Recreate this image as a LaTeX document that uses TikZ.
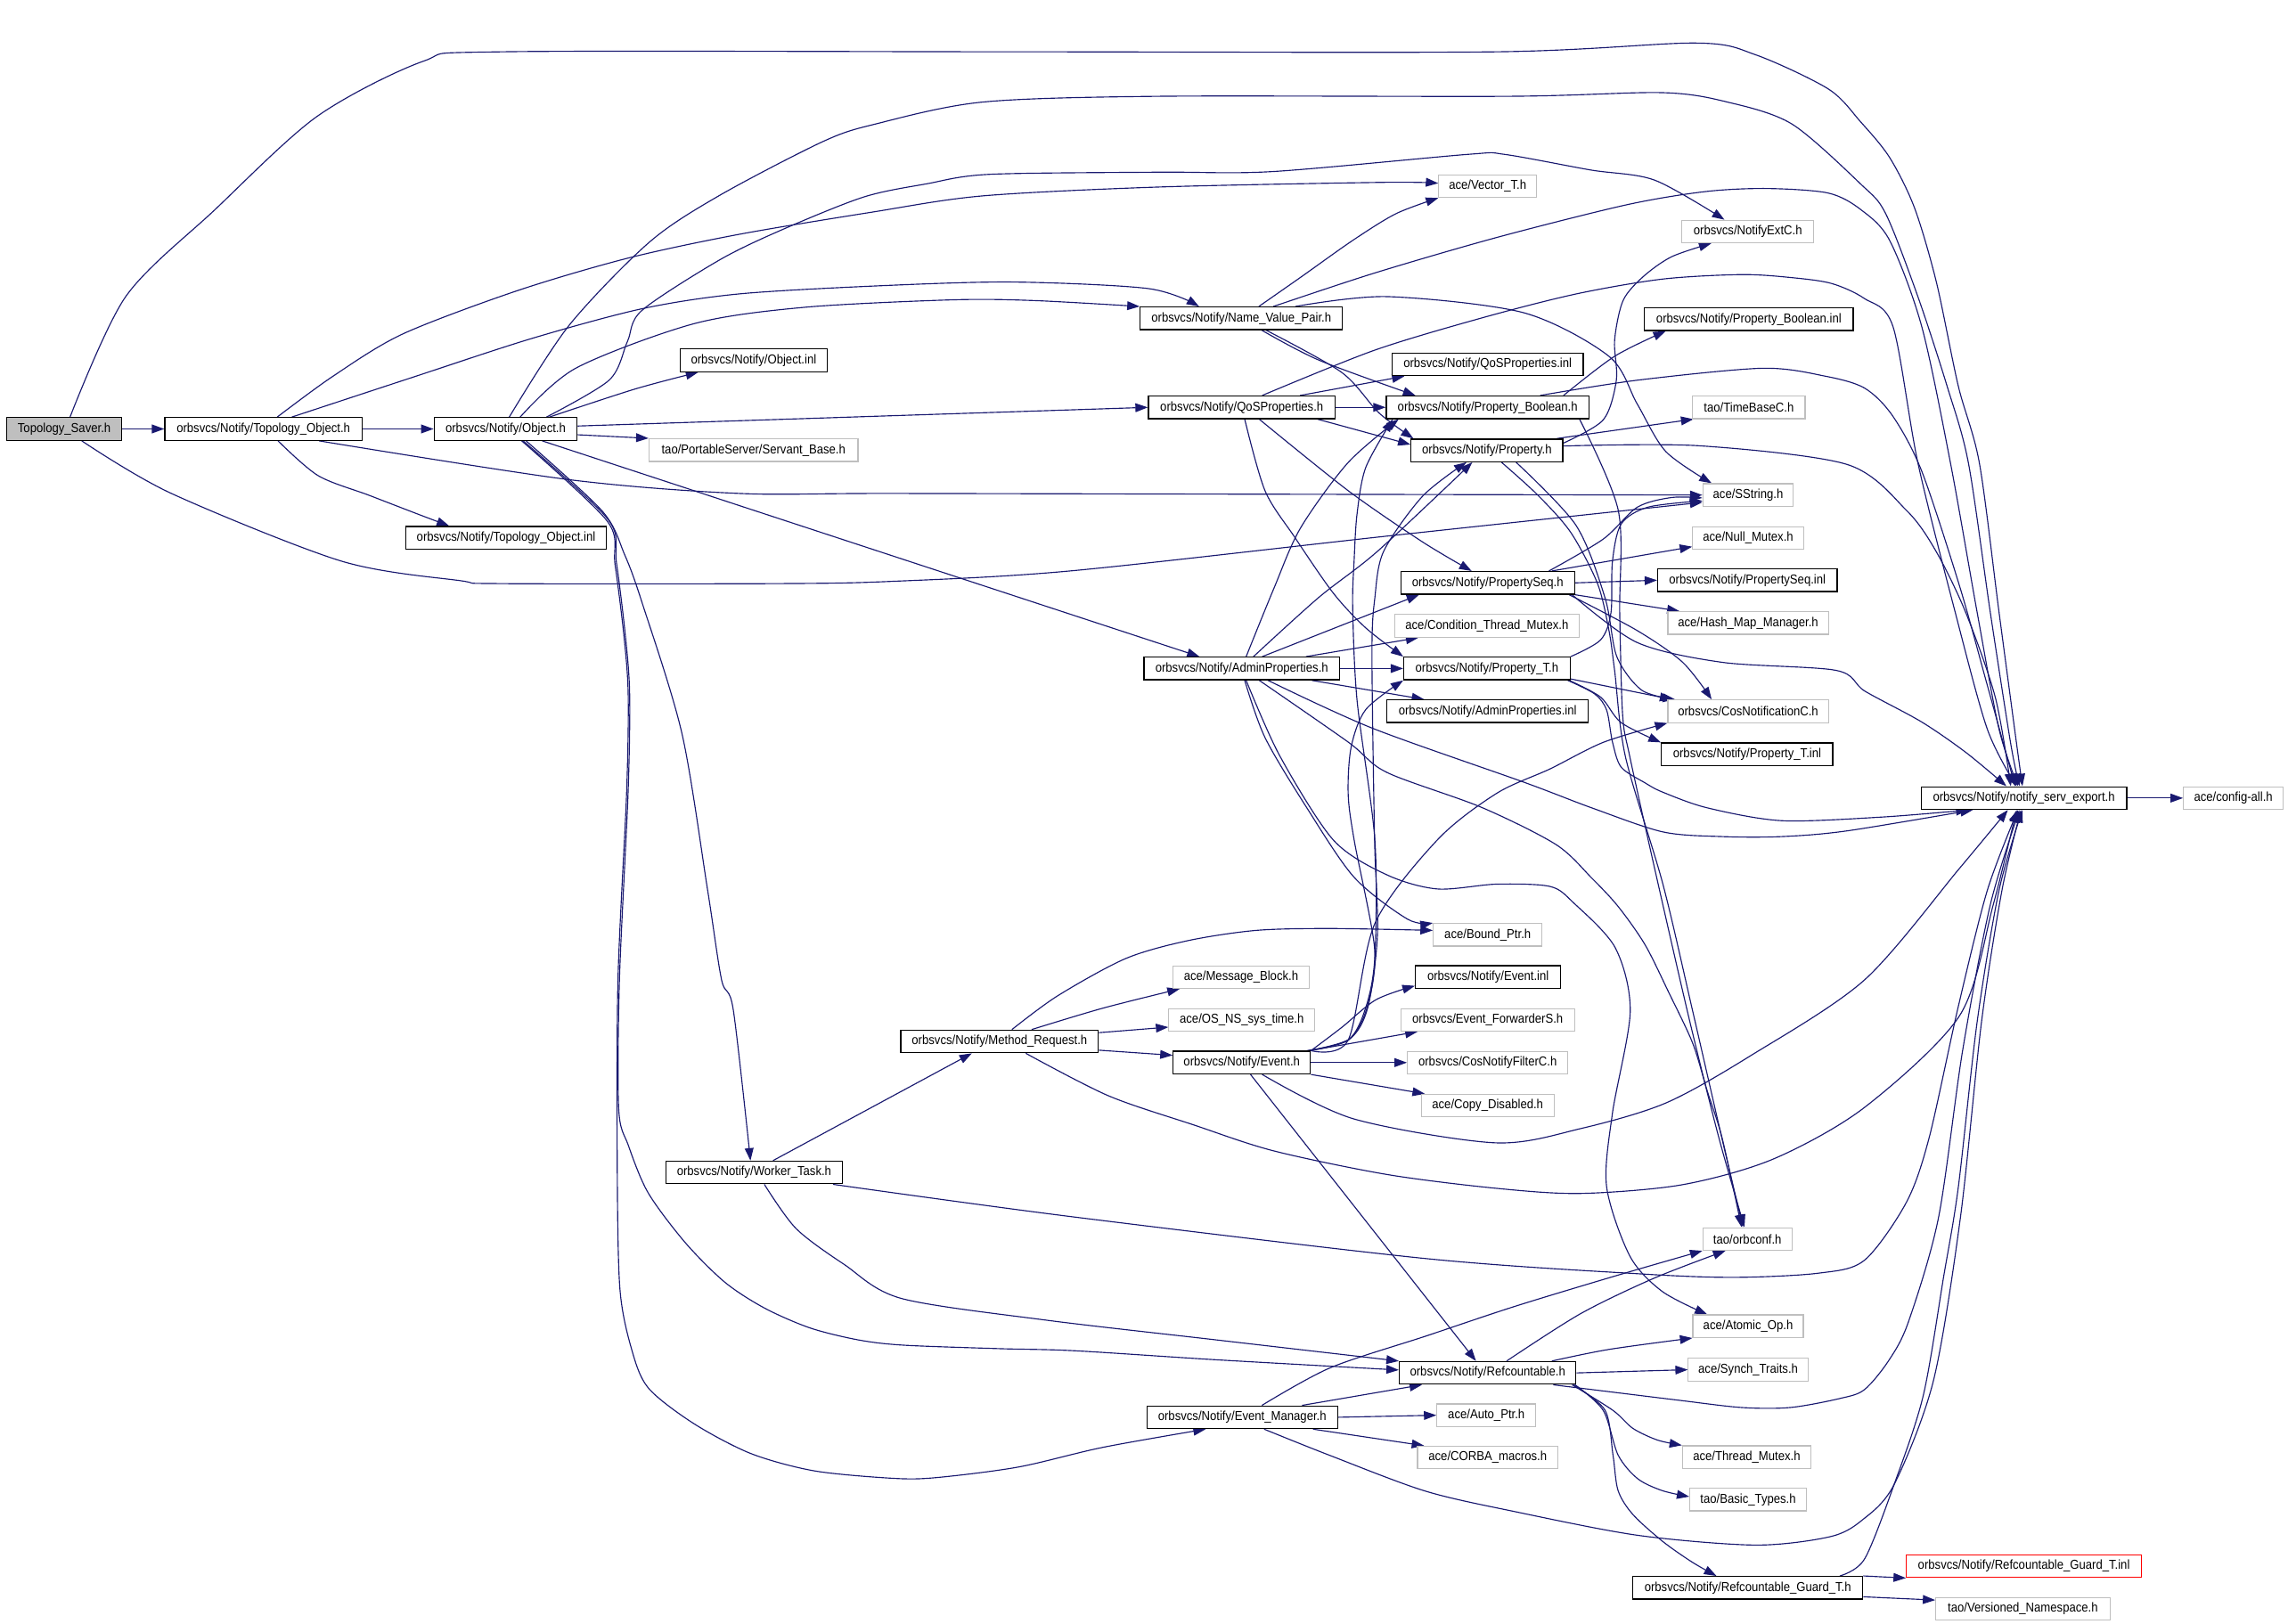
\documentclass[tikz,border=0pt]{standalone}
\usepackage{fontspec}
\setmainfont[FakeStretch=0.9]{Liberation Sans}
\usetikzlibrary{arrows.meta}
\definecolor{edgec}{HTML}{191970}
\definecolor{boxgray}{HTML}{BFBFBF}
\pgfdeclarelayer{background}
\pgfsetlayers{background,main}
\begin{document}
\begin{tikzpicture}[x=1pt,y=-1pt,
  bb/.style={draw=black, line width=0.8pt, minimum height=15.5pt, inner sep=0pt, fill=white, font=\fontsize{8.9}{10}\selectfont},
  gb/.style={bb, draw=boxgray, line width=0.7pt},
  e/.style={draw=edgec, line width=0.7pt, -{Triangle[length=8.5pt,width=6pt]}}
]
\useasboundingbox (0,0) rectangle (1568,1113);
% nodes
\node[bb,minimum width=78.6pt,fill=boxgray] (saver) at (44,294) {Topology\_Saver.h};
\node[bb,minimum width=135pt] (topo) at (180.5,294) {orbsvcs/Notify/Topology\_Object.h};
\node[bb,minimum width=98pt] (obj) at (346.5,294) {orbsvcs/Notify/Object.h};
\node[bb,minimum width=101pt] (objinl) at (516.5,247) {orbsvcs/Notify/Object.inl};
\node[gb,minimum width=143.2pt] (servant) at (516.4,308.5) {tao/PortableServer/Servant\_Base.h};
\node[bb,minimum width=137.6pt] (topoinl) at (346.8,368.6) {orbsvcs/Notify/Topology\_Object.inl};
\node[gb,minimum width=67pt] (vector) at (1019.5,127.6) {ace/Vector\_T.h};
\node[gb,minimum width=90.4pt] (notifyext) at (1197.8,158.7) {orbsvcs/NotifyExtC.h};
\node[bb,minimum width=138.6pt] (nvp) at (850.7,218.2) {orbsvcs/Notify/Name\_Value\_Pair.h};
\node[bb,minimum width=143pt] (pbinl) at (1198.5,218.8) {orbsvcs/Notify/Property\_Boolean.inl};
\node[bb,minimum width=131pt] (qosinl) at (1019.5,249.7) {orbsvcs/Notify/QoSProperties.inl};
\node[bb,minimum width=128pt] (qos) at (851,279.2) {orbsvcs/Notify/QoSProperties.h};
\node[bb,minimum width=139pt] (pb) at (1019.5,279.2) {orbsvcs/Notify/Property\_Boolean.h};
\node[gb,minimum width=77pt] (timebase) at (1198.5,279.2) {tao/TimeBaseC.h};
\node[bb,minimum width=104pt] (prop) at (1019,308.7) {orbsvcs/Notify/Property.h};
\node[gb,minimum width=62pt] (sstring) at (1198,339.3) {ace/SString.h};
\node[gb,minimum width=76pt] (nullmutex) at (1198,368.7) {ace/Null\_Mutex.h};
\node[bb,minimum width=119pt] (pseq) at (1019.5,399.5) {orbsvcs/Notify/PropertySeq.h};
\node[bb,minimum width=123pt] (pseqinl) at (1197.5,397.7) {orbsvcs/Notify/PropertySeq.inl};
\node[gb,minimum width=110pt] (hashmap) at (1198,427) {ace/Hash\_Map\_Manager.h};
\node[gb,minimum width=126pt] (condmutex) at (1019,429) {ace/Condition\_Thread\_Mutex.h};
\node[bb,minimum width=134pt] (admin) at (851,458.2) {orbsvcs/Notify/AdminProperties.h};
\node[bb,minimum width=114pt] (propT) at (1019,458.2) {orbsvcs/Notify/Property\_T.h};
\node[bb,minimum width=138pt] (admininl) at (1019.5,487.5) {orbsvcs/Notify/AdminProperties.inl};
\node[gb,minimum width=110pt] (cosnotif) at (1198,487.5) {orbsvcs/CosNotificationC.h};
\node[bb,minimum width=117.4pt] (propTinl) at (1197.3,517) {orbsvcs/Notify/Property\_T.inl};
\node[bb,minimum width=140.8pt] (nse) at (1387,547) {orbsvcs/Notify/notify\_serv\_export.h};
\node[gb,minimum width=68.3pt] (configall) at (1530.5,547) {ace/config-all.h};
\node[gb,minimum width=74.5pt] (boundptr) at (1019.5,640.7) {ace/Bound\_Ptr.h};
\node[gb,minimum width=93pt] (msgblock) at (850.5,669.7) {ace/Message\_Block.h};
\node[bb,minimum width=99.6pt] (eventinl) at (1019.8,669.7) {orbsvcs/Notify/Event.inl};
\node[gb,minimum width=100pt] (ostime) at (851,699) {ace/OS\_NS\_sys\_time.h};
\node[gb,minimum width=119pt] (evfwd) at (1019.5,699) {orbsvcs/Event\_ForwarderS.h};
\node[bb,minimum width=135.3pt] (methreq) at (685,713.8) {orbsvcs/Notify/Method\_Request.h};
\node[bb,minimum width=94pt] (event) at (851,728.3) {orbsvcs/Notify/Event.h};
\node[gb,minimum width=110pt] (filter) at (1019.5,728.3) {orbsvcs/CosNotifyFilterC.h};
\node[gb,minimum width=91pt] (copydis) at (1019.5,757.8) {ace/Copy\_Disabled.h};
\node[bb,minimum width=121pt] (worker) at (516.8,803.6) {orbsvcs/Notify/Worker\_Task.h};
\node[gb,minimum width=61pt] (orbconf) at (1197.5,849.2) {tao/orbconf.h};
\node[gb,minimum width=75.7pt] (atomic) at (1198,909) {ace/Atomic\_Op.h};
\node[bb,minimum width=121pt] (refc) at (1019.5,941) {orbsvcs/Notify/Refcountable.h};
\node[gb,minimum width=82pt] (synch) at (1198,938.8) {ace/Synch\_Traits.h};
\node[bb,minimum width=130.7pt] (evmgr) at (851.3,971.4) {orbsvcs/Notify/Event\_Manager.h};
\node[gb,minimum width=67.8pt] (autoptr) at (1018.6,970) {ace/Auto\_Ptr.h};
\node[gb,minimum width=96.2pt] (corba) at (1019.5,999) {ace/CORBA\_macros.h};
\node[gb,minimum width=88pt] (threadmutex) at (1197,998.7) {ace/Thread\_Mutex.h};
\node[gb,minimum width=80pt] (basictypes) at (1198,1027.8) {tao/Basic\_Types.h};
\node[bb,minimum width=157.6pt] (guard) at (1197.8,1088.3) {orbsvcs/Notify/Refcountable\_Guard\_T.h};
\node[gb,minimum width=161pt,draw=red] (guardinl) at (1387,1073.5) {orbsvcs/Notify/Refcountable\_Guard\_T.inl};
\node[gb,minimum width=119.4pt] (versioned) at (1386.3,1102.8) {tao/Versioned\_Namespace.h};

\begin{pgfonlayer}{background}
\fill[white] (0,0) rectangle (1568,1113);
% saver
\draw[e] (saver.east) -- (topo.west);
\draw[e] plot[smooth,tension=0.5] coordinates {([xshift=4pt]saver.north) (86,203.5) (147,144) (217,80) (290,42) (344,35.5) (700,35.5) (1026,35.5) (1162,29.5) (1203,37.5) (1253,61) (1275,83.4) (1295,108) (1312,142.4) (1327,193.3) (1342,264.5) (1356.5,317.5) (1370,420) (1382,510) ([xshift=-1pt]nse.north)};
\draw[e] plot[smooth,tension=0.5] coordinates {([xshift=12pt]saver.south) (117,338) (234,384.6) (315.5,398) (342.7,400) (533.5,400) (610.5,398.5) (732.6,391.4) (950,367.5) ([yshift=-5pt]sstring.west)};
% topo
\draw[e] (topo.east) -- (obj.west);
\draw[e] plot[smooth,tension=0.5] coordinates {([xshift=9.5pt]topo.north) (228,258) (275.8,229) (354,199.4) (430,177) (506,160.7) (597,145.5) (673,134.3) (793.7,128.2) (947,125) ([yshift=2pt]vector.west)};
\draw[e] plot[smooth,tension=0.5] coordinates {([xshift=19.5pt]topo.north) (283.4,258.4) (364.4,232) (440,211.6) (506,201.5) (600,196) (693.5,193.3) (787,197.8) ([xshift=-29pt]nvp.north)};
\draw[e] plot[smooth,tension=0.5] coordinates {([xshift=10pt]topo.south) (218,326) (253,339.5) (288,353) ([xshift=-39pt]topoinl.north)};
\draw[e] plot[smooth,tension=0.5] coordinates {([xshift=38pt]topo.south) (389.5,328.7) (506.4,338.2) (610.5,338.2) (900,338.8) (sstring.west)};
% obj
\draw[e] plot[smooth,tension=0.5] coordinates {([xshift=30pt]obj.north) (435.3,266.6) ([xshift=-38pt]objinl.south)};
\draw[e] ([yshift=-4pt]obj.east) -- (servant.north west);
\draw[e] ([yshift=2pt]obj.east) -- (qos.west);
\draw[e] plot[smooth,tension=0.5] coordinates {([xshift=2.5pt]obj.north) (390,223) (445,166) (493,134) (564,97) (600,85) (673,70) (794,66) (1035,66) (1139,63.5) (1184,70) (1228,85) (1275,126) (1292.3,146.5) (1314.4,203.5) (1334.3,264.5) (1349,317.5) (1364,420) (1378,510) ([xshift=-3pt]nse.north)};
\draw[e] plot[smooth,tension=0.5] coordinates {([xshift=10pt]obj.north) (394.7,252.3) (475.8,221.8) (551.6,210.6) (652.9,205.5) (708.6,206) (nvp.north west)};
\draw[e] plot[smooth,tension=0.5] coordinates {([xshift=28pt]obj.north) (417.5,260.5) (430,234) (440,212.7) (493.4,178) (537,157) (592,135) (635,126) (678,119.5) (794,118) (872,117.6) (1006,105.8) (1031,105.8) (1090,116.5) (1134,123.5) ([xshift=-16pt]notifyext.north)};
\draw[e] ([xshift=25pt]obj.south) -- ([xshift=-29pt]admin.north);
\draw[e] plot[smooth,tension=0.5] coordinates {([xshift=14pt]obj.south) (412.8,350.4) (428,380) (440,413) (467.4,503) (485,610.5) (494.5,671.6) (502.5,692) ([xshift=-2.5pt]worker.north)};
\draw[e] plot[smooth,tension=0.5] coordinates {([xshift=12pt]obj.south) (416.7,356) (422.5,386) (428.5,435) (431.5,476) (430.4,544) (424.5,671.6) (424,760) (430.6,785) (444.2,817.6) (469.6,851.7) (496.8,878.9) (524,896.6) (555.2,910.2) (588.3,918.4) (619.5,922) (685.6,924.4) (736.3,925.8) (833.6,932) ([yshift=2pt]refc.west)};
\draw[e] plot[smooth,tension=0.5] coordinates {([xshift=11pt]obj.south) (416,357) (421.5,387) (427.5,435) (430.5,476) (429.4,544) (423.5,671.6) (423,800) (424.8,883) (432.6,923.9) (444.2,951.2) (475.4,975.7) (514.4,996.2) (557.2,1008) (607.9,1013) (638.9,1013) (697.4,1005.6) (755.9,992) ([xshift=-25pt]evmgr.south)};
% nvp
\draw[e] plot[smooth,tension=0.5] coordinates {([xshift=12pt]nvp.north) (892.4,189.3) (927,164.8) (956.6,146.5) (vector.south west)};
\draw[e] plot[smooth,tension=0.5] coordinates {([xshift=22pt]nvp.north) (941.8,187.2) (1025.6,162.8) (1114.6,140.4) (1168.8,131.3) (1210.9,129.2) (1252.8,132.3) (1275,143.5) (1295,164.8) (1317,223.9) (1336.7,317.5) (1355,420) (1370,500) ([xshift=-4pt]nse.north)};
\draw[e] plot[smooth,tension=0.5] coordinates {([xshift=37pt]nvp.north) (950.5,203.3) (1044,214.3) (1102.6,244.2) (1122,276.9) (1141.6,309.5) ([xshift=-25pt]sstring.north)};
\draw[e] plot[smooth,tension=0.5] coordinates {([xshift=14pt]nvp.south) (904,246.9) ([xshift=-49.5pt]pb.north)};
\draw[e] plot[smooth,tension=0.5] coordinates {([xshift=17pt]nvp.south) (919.4,255.2) (945,283) ([xshift=2pt]prop.north west)};
% qos
\draw[e] ([xshift=40pt]qos.north) -- ([xshift=-57pt]qosinl.south);
\draw[e] (qos.east) -- (pb.west);
\draw[e] ([xshift=52pt]qos.south) -- ([yshift=4pt]prop.west);
\draw[e] plot[smooth,tension=0.5] coordinates {([xshift=12pt]qos.south) (923.9,336.3) (974.8,371.4) ([xshift=-11pt]pseq.north)};
\draw[e] plot[smooth,tension=0.5] coordinates {([xshift=2pt]qos.south) (866.9,336.3) (887.2,368.1) (913.7,406.5) (936,430.4) (propT.north west)};
\draw[e] plot[smooth,tension=0.5] coordinates {([xshift=14pt]qos.north) (941.8,240.1) (1015.9,217.8) (1080,201.5) (1139.2,191.3) (1193.5,188.2) (1228,190.3) (1255.2,194.3) (1277.5,204.5) (1297.3,223.9) (1314.4,317.5) (1340,420) (1362,500) ([xshift=-5pt]nse.north)};
% pb
\draw[e] plot[smooth,tension=0.5] coordinates {([xshift=52pt]pb.north) (1106.5,244.2) ([xshift=-57pt]pbinl.south)};
\draw[e] plot[smooth,tension=0.5] coordinates {([xshift=36pt]pb.north) (1122,260.6) (1207.8,252.4) (1250.7,257.8) (1277.8,266) (1297,285) (1317,323) (1343,402) (1362,470) ([xshift=-6pt]nse.north)};
\draw[e] plot[smooth,tension=0.5] coordinates {([xshift=63pt]pb.south) (1109,349.8) (1110,420) (1112,490) (1117,519) (1135,600) (1158,700) (1178,780) ([xshift=-2pt]orbconf.north)};
% prop
\draw[e] ([xshift=48pt]prop.north) -- ([xshift=-38pt]timebase.south);
\draw[e] plot[smooth,tension=0.5] coordinates {([yshift=5pt]prop.east) (1098.7,287.8) (1107.7,260.6) (1106.5,233.2) (1112.3,206) (1126,189.7) (1145.5,176) ([xshift=-25pt]notifyext.south)};
\draw[e] plot[smooth,tension=0.5] coordinates {([yshift=3pt]prop.east) (1164,305.5) (1265.7,318.3) (1306.5,349.8) (1326.8,377.9) (1347.2,420) (1367.5,478.4) ([xshift=-9pt]nse.north)};
\draw[e] plot[smooth,tension=0.5] coordinates {([xshift=10pt]prop.south) (1054,339.5) (1076.5,365) (1094.8,400) (1102.6,432) (1106.5,459.5) (1114,519) (1139.6,606) (1160,693) (1180,780) ([xshift=-3pt]orbconf.north)};
\draw[e] plot[smooth,tension=0.5] coordinates {([xshift=20pt]prop.south) (1080,360) (1100,410) (1108,450) (1125,473) ([xshift=-50pt]cosnotif.north)};
% pseq
\draw[e] plot[smooth,tension=0.5] coordinates {([xshift=42pt]pseq.north) (1098.7,369.5) (1122,347.7) (1145.5,341) ([yshift=-2pt]sstring.west)};
\draw[e] ([xshift=44pt]pseq.north) -- ([yshift=-6pt]nullmutex.west);
\draw[e] (pseq.east) -- (pseqinl.west);
\draw[e] (pseq.south east) -- ([xshift=-47pt]hashmap.north);
\draw[e] plot[smooth,tension=0.5] coordinates {([xshift=-4pt]pseq.south east) (1122,432.2) (1153.2,454) ([xshift=-25pt]cosnotif.north)};
\draw[e] plot[smooth,tension=0.5] coordinates {([xshift=-2pt]pseq.south east) (1122,440.4) (1180.5,454) (1258.4,459.5) (1278,473.7) (1316.7,494.7) (1347.2,515.7) ([xshift=-12pt]nse.north)};
% admin
\draw[e] plot[smooth,tension=0.5] coordinates {([xshift=3pt]admin.north) (873,403.3) (891.3,361.8) (923.9,317) ([xshift=-61pt]pb.south)};
\draw[e] plot[smooth,tension=0.5] coordinates {([xshift=8pt]admin.north) (903.5,409.7) (944.2,377.7) ([xshift=-10pt]prop.south)};
\draw[e] ([xshift=14pt]admin.north) -- ([xshift=-47pt]pseq.south);
\draw[e] ([xshift=44pt]admin.north) -- ([xshift=-47pt]condmutex.south);
\draw[e] (admin.east) -- (propT.west);
\draw[e] ([xshift=48pt]admin.south) -- ([xshift=-43.5pt]admininl.north);
\draw[e] plot[smooth,tension=0.5] coordinates {([xshift=2pt]admin.south) (866.9,505.5) (895.4,553.4) (928,601.3) (964.6,630) (boundptr.north west)};
\draw[e] plot[smooth,tension=0.5] coordinates {([xshift=3pt]admin.south) (877,518) (913.7,575.7) (950.4,599.6) (985,609.3) (1025.6,606) (1062.3,607.6) (1078.6,619) (1107,649.7) (1117.2,693.3) (1105,763.1) (1101,813.2) (1117,861) (1139.2,885.2) ([xshift=-28pt]atomic.north)};
\draw[e] plot[smooth,tension=0.5] coordinates {([xshift=12pt]admin.south) (923.9,508.6) (950.4,529.4) (1015.4,553.4) (1066.4,578.9) (1090.8,601.8) (1109,621.4) (1127.4,647.6) (1143.6,680.2) (1160,715) (1170,747.8) (1180.3,780.5) ([xshift=-4pt]orbconf.north)};
\draw[e] plot[smooth,tension=0.5] coordinates {([xshift=18pt]admin.south) (940.2,499) (1044,536) (1090.8,553.7) (1139.6,570.2) (1180.3,573.4) (1221,573.4) (1265.7,569.5) ([xshift=-35pt]nse.south)};
% propT
\draw[e] plot[smooth,tension=0.5] coordinates {(propT.north east) (1096.9,438.6) (1104,420) (1105,385) (1111,359.2) (1129.4,347.6) ([yshift=-4pt]sstring.west)};
\draw[e] ([yshift=1pt]propT.south east) -- ([xshift=-52pt]cosnotif.north);
\draw[e] plot[smooth,tension=0.5] coordinates {([xshift=-1pt]propT.south east) (1096.9,477.8) (1111,495.3) (propTinl.north west)};
\draw[e] plot[smooth,tension=0.5] coordinates {([xshift=-2pt]propT.south east) (1092.8,475.6) (1101,486.6) (1105,508.4) (1111,525.8) (1127.4,536.6) (1139.6,543) (1170,553.7) (1221,562.5) (1290,560) ([xshift=-38pt]nse.south)};
% methreq
\draw[e] plot[smooth,tension=0.5] coordinates {([xshift=8.5pt]methreq.north) (724.7,682.6) (771.4,657) (814.2,644.7) (860.8,637.7) (911.5,636.4) ([yshift=3pt]boundptr.west)};
\draw[e] plot[smooth,tension=0.5] coordinates {([xshift=22pt]methreq.north) (755.8,691) ([xshift=-42pt]msgblock.south)};
\draw[e] ([yshift=6pt]methreq.east) -- ([yshift=-5pt]ostime.west);
\draw[e] ([yshift=-6pt]methreq.east) -- ([yshift=5pt]event.west);
\draw[e] plot[smooth,tension=0.5] coordinates {([xshift=18pt]methreq.south) (759.5,751) (818,771) (872.8,788.8) (950.5,805) (1024.7,814.4) (1083,818) (1153,812) (1215.5,794.3) (1277.8,759) (1343,696) (1366,620) ([xshift=-5pt]nse.south)};
% event
\draw[e] plot[smooth,tension=0.5] coordinates {(event.north east) (919.5,704.2) (943,685.2) ([yshift=-6pt]eventinl.west)};
\draw[e] ([xshift=-1pt]event.north east) -- ([xshift=-48pt]evfwd.south);
\draw[e] (event.east) -- (filter.west);
\draw[e] (event.south east) -- ([xshift=-43pt]copydis.north);
\draw[e] ([xshift=6pt]event.south) -- ([xshift=-8pt]refc.north);
\draw[e] plot[smooth,tension=0.5] coordinates {([xshift=14pt]event.south) (927.4,766.8) (1024.7,783.3) (1083,773.6) (1141.6,756) (1200,723.4) (1277.8,671.6) (1343,595) ([xshift=-11pt]nse.south)};
\draw[e] plot[smooth,tension=0.5] coordinates {([xshift=-3pt]event.north east) (923.9,712.9) (936,690.5) (942.2,655.6) (942.2,575.7) (930,480) (927,416) (928,384) (930,352.2) (936,320.3) ([xshift=-65pt]pb.south)};
\draw[e] plot[smooth,tension=0.5] coordinates {([xshift=-2pt]event.north east) (925,712) (937.5,690) (944,640) (942,575) (940.2,448) (942.2,409.7) (948.3,377.7) (975,340) ([xshift=-14pt]prop.south)};
\draw[e] plot[smooth,tension=0.5] coordinates {([xshift=-1pt]event.north east) (924.5,712.5) (937,690) (942,650) (928,575.7) (923.9,543.8) (926,511.8) (936,486.3) (propT.south west)};
\draw[e] plot[smooth,tension=0.5] coordinates {(event.north east) (923.9,712.9) (942.2,633) (985,575.7) (1025.6,543.8) (1062.3,527) (1099,508.7) (cosnotif.south west)};
% worker
\draw[e] ([xshift=13pt]worker.north) -- ([xshift=-19pt]methreq.south);
\draw[e] plot[smooth,tension=0.5] coordinates {([xshift=7pt]worker.south) (545.5,842) (578.6,866.7) (617.5,889.9) (716.7,904.8) (833.7,918.4) (refc.north west)};
\draw[e] plot[smooth,tension=0.5] coordinates {([xshift=54pt]worker.south) (732.6,833.7) (976.8,862.6) (1122,873) (1188.4,875.5) (1246.6,872.6) (1277.8,863.7) (1306.5,824) (1322,780) (1342,690) (1362,610) ([xshift=-4pt]nse.south)};
% refc
\draw[e] plot[smooth,tension=0.5] coordinates {([xshift=13pt]refc.north) (1083,900.5) (1133.7,876) ([xshift=-15pt]orbconf.south)};
\draw[e] plot[smooth,tension=0.5] coordinates {([xshift=44pt]refc.north) (1102.6,924.9) (atomic.south west)};
\draw[e] (refc.east) -- (synch.west);
\draw[e] plot[smooth,tension=0.5] coordinates {([xshift=-3pt]refc.south east) (1105.4,966.7) (1119,979) (1135.8,987) (threadmutex.north west)};
\draw[e] plot[smooth,tension=0.5] coordinates {([xshift=-1pt]refc.south east) (1098.7,966.7) (1108.9,997.3) (1122.3,1013.5) (1139.2,1021.7) ([yshift=2pt]basictypes.west)};
\draw[e] plot[smooth,tension=0.5] coordinates {([xshift=-2pt]refc.south east) (1100,966.7) (1105.4,997.3) (1108.9,1021.7) (1119,1038) (1139.2,1056.3) (1159.5,1070.6) ([xshift=-21.5pt]guard.north)};
\draw[e] plot[smooth,tension=0.5] coordinates {([xshift=45pt]refc.south) (1149.4,959.6) (1193.4,964.7) (1227,964.7) (1261,958.5) (1277.8,952.4) (1294.7,932) (1308,905.6) (1328.5,834.4) (1345,720) (1364,620) ([xshift=-3pt]nse.south)};
% evmgr
\draw[e] ([xshift=41pt]evmgr.north) -- ([xshift=-45pt]refc.south);
\draw[e] plot[smooth,tension=0.5] coordinates {([xshift=13.5pt]evmgr.north) (911.6,937.5) (977,915.8) (1037.8,895.5) (1105.4,875) (orbconf.south west)};
\draw[e] (evmgr.east) -- (autoptr.west);
\draw[e] ([xshift=48.5pt]evmgr.south) -- ([xshift=-43.5pt]corba.north);
\draw[e] plot[smooth,tension=0.5] coordinates {([xshift=15pt]evmgr.south) (911.5,997.6) (976.8,1022) (1037.8,1036) (1122.3,1052.3) (1203,1059) (1254,1053.3) (1276,1042) (1298,1017.6) (1325,946.3) (1343.5,834.4) (1358,700) (1372,610) ([xshift=-2pt]nse.south)};
% guard
\draw[e] (guard.north east) -- (guardinl.south west);
\draw[e] ([yshift=2pt]guard.south east) -- ([yshift=-2pt]versioned.north west);
\draw[e] plot[smooth,tension=0.5] coordinates {([xshift=63pt]guard.north) (1277.8,1068.5) (1298,1017.6) (1318,956.6) (1332,875) (1342,814) (1355,700) (1370,610) ([xshift=-1pt]nse.south)};
% nse
\draw[e] (nse.east) -- (configall.west);
\end{pgfonlayer}
\end{tikzpicture}
\end{document}
